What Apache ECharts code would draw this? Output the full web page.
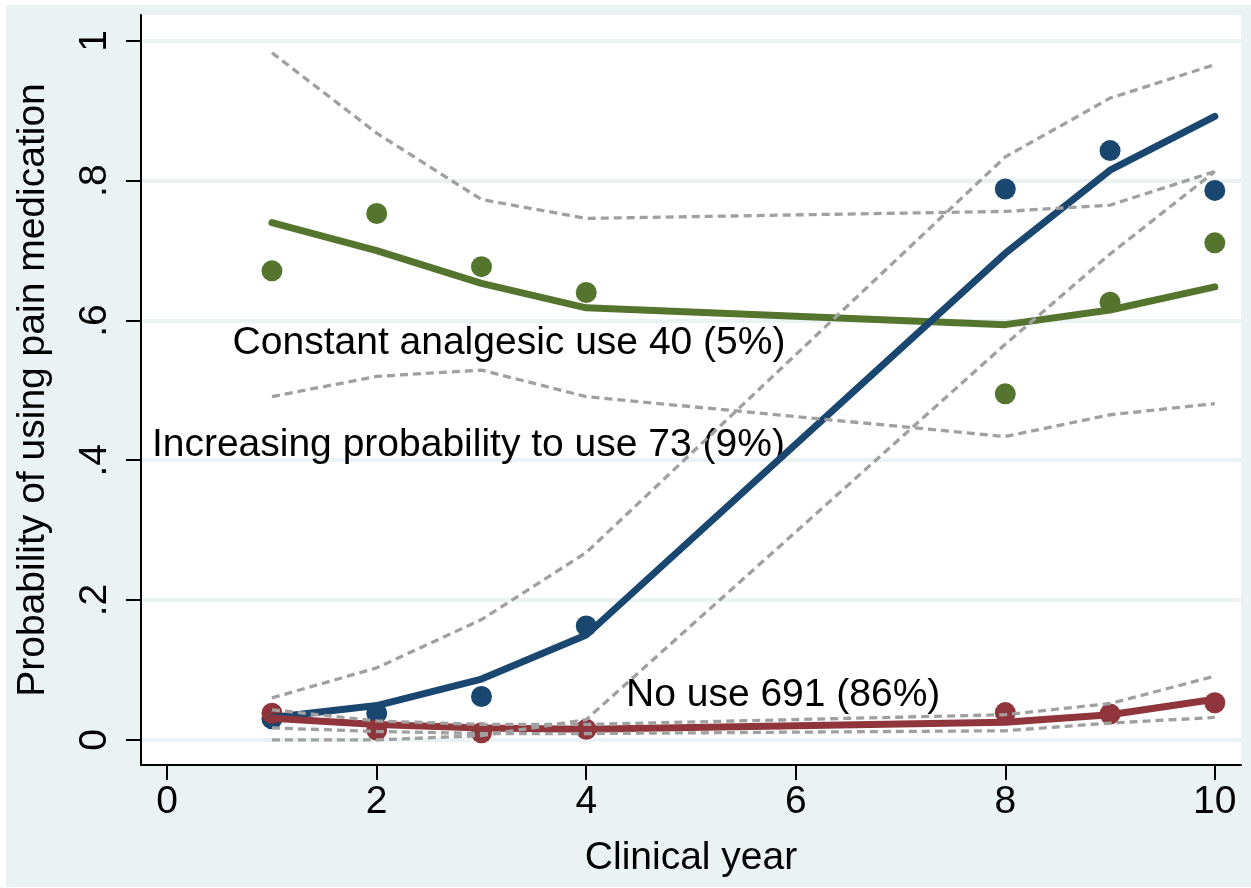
<!DOCTYPE html>
<html>
<head>
<meta charset="utf-8">
<title>Probability of using pain medication by clinical year</title>
<script src="https://cdn.jsdelivr.net/npm/echarts@6/dist/echarts.min.js"></script>
<style>
  html, body { margin: 0; padding: 0; background: #ffffff; }
  #chart { position: absolute; left: 6px; top: 5px; width: 1245px; height: 882px; }
</style>
</head>
<body>
<div id="chart"></div>
<script>
// Clinical years with observations
const years = [1, 2, 3, 4, 8, 9, 10];

// Constant analgesic use group
const constObserved = [0.671, 0.753, 0.677, 0.640, 0.495, 0.626, 0.711];
const constFitted   = [0.740, 0.700, 0.653, 0.618, 0.594, 0.615, 0.648];
const constUpper    = [0.983, 0.868, 0.773, 0.746, 0.756, 0.765, 0.813];
const constLower    = [0.491, 0.520, 0.529, 0.491, 0.434, 0.465, 0.481];

// Increasing probability group
const incObserved = [0.030, 0.038, 0.062, 0.163, 0.788, 0.843, 0.786];
const incFitted   = [0.032, 0.049, 0.087, 0.150, 0.696, 0.815, 0.892];
const incUpper    = [0.060, 0.103, 0.172, 0.268, 0.834, 0.918, 0.966];
const incLower    = [0.000, 0.000, 0.006, 0.029, 0.566, 0.695, 0.813];

// No use group
const noObserved = [0.038, 0.014, 0.010, 0.015, 0.039, 0.037, 0.053];
const noFitted   = [0.031, 0.022, 0.017, 0.015, 0.025, 0.036, 0.058];
const noUpper    = [0.043, 0.027, 0.022, 0.022, 0.036, 0.052, 0.091];
const noLower    = [0.017, 0.012, 0.009, 0.009, 0.013, 0.024, 0.032];

// Axis ticks
const xTicks = [0, 2, 4, 6, 8, 10];
const yTicks = [0, 0.2, 0.4, 0.6, 0.8, 1];
const yTickLabels = ['0', '.2', '.4', '.6', '.8', '1'];

// Group labels, placed in data units
const groupLabels = ['Constant analgesic use 40 (5%)', 'Increasing probability to use 73 (9%)', 'No use 691 (86%)'];
const groupLabelX = [3.263, 2.875, 5.88];
const groupLabelY = [0.567, 0.422, 0.064];

const FONT = "'Liberation Sans', Arial, Helvetica, sans-serif";
const FS = 39;
const NAVY = '#1a476f';
const MAROON = '#90353b';
const GREEN = '#55752f';
const CI_GREY = '#a0a0a0';

const pairs = (ys) => years.map((x, i) => [x, ys[i]]);

function dots(values, color) {
  return {
    type: 'scatter', z: 2, silent: true,
    symbol: 'circle', symbolSize: 21,
    itemStyle: { color: color, opacity: 1 },
    data: pairs(values)
  };
}
function fitLine(values, color) {
  return {
    type: 'line', z: 3, silent: true, showSymbol: false, symbol: 'none',
    lineStyle: { color: color, width: 7, cap: 'round', join: 'round', opacity: 1 },
    data: pairs(values)
  };
}
function ciLine(values) {
  return {
    type: 'line', z: 4, silent: true, showSymbol: false, symbol: 'none',
    lineStyle: { color: CI_GREY, width: 3.3, type: [8, 5], cap: 'butt', opacity: 1 },
    data: pairs(values)
  };
}

const chart = echarts.init(document.getElementById('chart'), null, { renderer: 'canvas' });

chart.setOption({
  animation: false,
  backgroundColor: '#eaf2f3',
  textStyle: { fontFamily: FONT },
  grid: {
    show: true, backgroundColor: '#ffffff', borderWidth: 0,
    left: 131, top: 10, right: 10, bottom: 122
  },
  xAxis: {
    type: 'value', min: -0.25, max: 10.25,
    name: 'Clinical year', nameLocation: 'middle', nameGap: 74,
    nameTextStyle: { fontSize: FS, color: '#000', fontFamily: FONT },
    axisLine: { show: true, onZero: false, lineStyle: { color: '#000', width: 2 } },
    axisTick: { show: true, customValues: xTicks, length: 15, lineStyle: { color: '#000', width: 2 } },
    axisLabel: { customValues: xTicks, fontSize: FS, color: '#000', margin: 18, fontFamily: FONT },
    splitLine: { show: false }
  },
  yAxis: {
    type: 'value', min: -0.036, max: 1.037,
    name: 'Probability of using pain medication', nameLocation: 'middle', nameGap: 88,
    nameTextStyle: { fontSize: FS, color: '#000', fontFamily: FONT },
    axisLine: { show: true, onZero: false, lineStyle: { color: '#000', width: 2 } },
    axisTick: { show: true, customValues: yTicks, length: 15, lineStyle: { color: '#000', width: 2 } },
    axisLabel: {
      customValues: yTicks, rotate: 90, fontSize: FS, color: '#000', margin: 26, fontFamily: FONT,
      formatter: (v) => {
        const i = yTicks.findIndex(t => Math.abs(t - v) < 1e-6);
        return i >= 0 ? yTickLabels[i] : '';
      }
    },
    splitLine: { show: true, lineStyle: { color: '#eaf2f3', width: 4 } }
  },
  series: [
    {
      type: 'scatter', z: 1, silent: true, symbolSize: 0,
      itemStyle: { opacity: 1 },
      label: {
        show: true, position: 'inside', color: '#000', fontSize: FS, fontFamily: FONT,
        textBorderWidth: 0, opacity: 1,
        formatter: (p) => p.name
      },
      data: groupLabels.map((t, i) => ({ name: t, value: [groupLabelX[i], groupLabelY[i]] }))
    },
    dots(constObserved, GREEN),
    dots(incObserved, NAVY),
    dots(noObserved, MAROON),
    fitLine(constFitted, GREEN),
    fitLine(incFitted, NAVY),
    fitLine(noFitted, MAROON),
    ciLine(constUpper), ciLine(constLower),
    ciLine(incUpper), ciLine(incLower),
    ciLine(noUpper), ciLine(noLower)
  ]
});
</script>
</body>
</html>
